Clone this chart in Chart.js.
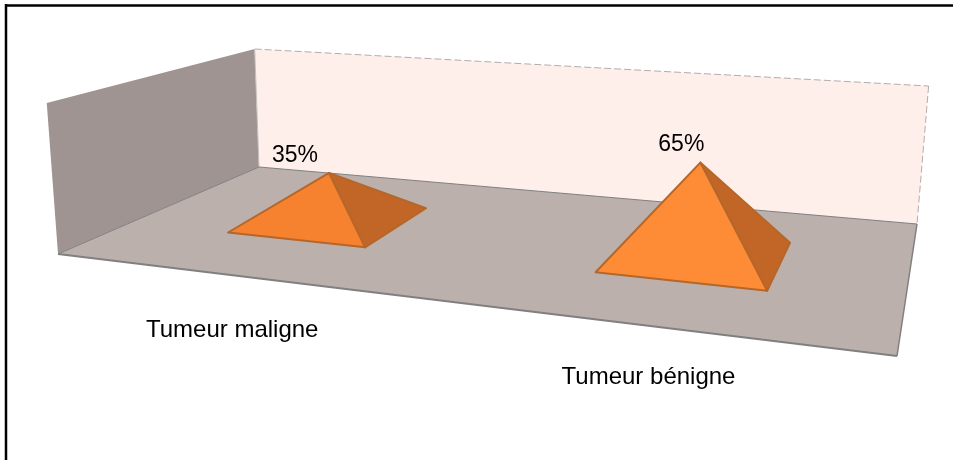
<!DOCTYPE html>
<html>
<head>
<meta charset="utf-8">
<script src="https://cdn.jsdelivr.net/npm/chart.js@4"></script>
<style>
  html, body { margin: 0; padding: 0; background: #fff; overflow: hidden; }
  canvas { display: block; }
</style>
</head>
<body>
<canvas id="grafico" width="953" height="460"></canvas>
<script>
// Datos
const categorias = ['Tumeur maligne', 'Tumeur bénigne'];
const valores = [35, 65];

// Colores
const color_pared = '#a09492';
const color_fondo = '#ffefeb';
const color_suelo = '#bbb0ac';
const color_borde = '#808080';
const color_frente = ['#f6812f', '#fe8c36'];
const color_lado = '#c26627';
const color_arista = '#b5672a';

// Esquinas del suelo en la pantalla (fondo izq, fondo der, frente der, frente izq)
const suelo = [[259, 167], [917, 224], [897, 356], [58, 254]];
// Altura de la caja en cada esquina, y punto de fuga de las verticales
const alturas = [118, 138, 176, 151];
const fuga = [460, 5650];

// homografia del cuadrado unidad a un cuadrilatero
function homografia(q) {
  const [[x0, y0], [x1, y1], [x2, y2], [x3, y3]] = q;
  const dx1 = x1 - x2, dx2 = x3 - x2, sx = x0 - x1 + x2 - x3;
  const dy1 = y1 - y2, dy2 = y3 - y2, sy = y0 - y1 + y2 - y3;
  const den = dx1 * dy2 - dx2 * dy1;
  const g = (sx * dy2 - dx2 * sy) / den;
  const h = (dx1 * sy - sx * dy1) / den;
  const a = x1 - x0 + g * x1, b = x3 - x0 + h * x3;
  const d = y1 - y0 + g * y1, e = y3 - y0 + h * y3;
  return (u, v) => {
    const w = g * u + h * v + 1;
    return [(a * u + b * v + x0) / w, (d * u + e * v + y0) / w];
  };
}
const enSuelo = homografia(suelo);

// u: izq-der, v: fondo-frente, w: altura (todo de 0 a 1)
function proyectar(u, v, w) {
  const p = enSuelo(u, v);
  const alto = (alturas[0] * (1 - u) + alturas[1] * u) * (1 - v) + (alturas[3] * (1 - u) + alturas[2] * u) * v;
  const inclinacion = (p[0] - fuga[0]) / (fuga[1] - p[1]);
  return [p[0] + alto * w * inclinacion, p[1] - alto * w];
}

function poligono(ctx, puntos, relleno, linea, grosor) {
  ctx.beginPath();
  puntos.forEach((p, i) => i ? ctx.lineTo(p[0], p[1]) : ctx.moveTo(p[0], p[1]));
  ctx.closePath();
  if (relleno) { ctx.fillStyle = relleno; ctx.fill(); }
  if (linea) { ctx.strokeStyle = linea; ctx.lineWidth = grosor; ctx.lineJoin = 'round'; ctx.stroke(); }
}

function linea(ctx, a, b, color, grosor, guiones) {
  ctx.save();
  ctx.beginPath();
  ctx.moveTo(a[0], a[1]);
  ctx.lineTo(b[0], b[1]);
  ctx.strokeStyle = color;
  ctx.lineWidth = grosor;
  ctx.setLineDash(guiones || []);
  ctx.stroke();
  ctx.restore();
}

// ajustes de posicion sobre la escena
const anchoU = 0.1, anchoV = 0.2;
const desplazamientoU = [0.0013, 0.0027];
const centroV = [0.4885, 0.4885];
const etiquetaDx = [-34, -19];
const etiquetaDy = [-17, -18];
const categoriaDx = [0, 0];
const categoriaDy = [55, 52];

const escena = {
  id: 'escena',
  beforeDatasetsDraw(chart) {
    const ctx = chart.ctx;
    const area = chart.chartArea;
    const x = chart.scales.x, y = chart.scales.y;

    // marco: solo arriba y a la izquierda
    linea(ctx, [5, 5.5], [953, 5.5], '#000', 2.5);
    linea(ctx, [6, 4], [6, 460], '#000', 2.5);

    // paredes y suelo
    const pared = [proyectar(0, 0, 0), proyectar(0, 0, 1), proyectar(0, 1, 1), proyectar(0, 1, 0)];
    const fondo = [proyectar(0, 0, 0), proyectar(0, 0, 1), proyectar(1, 0, 1), proyectar(1, 0, 0)];
    const piso = [proyectar(0, 0, 0), proyectar(1, 0, 0), proyectar(1, 1, 0), proyectar(0, 1, 0)];
    poligono(ctx, pared, color_pared);
    poligono(ctx, fondo, color_fondo);
    linea(ctx, fondo[1], fondo[2], '#b4aca9', 1, [7, 3]);
    linea(ctx, fondo[2], fondo[3], '#b4aca9', 1, [7, 3]);
    linea(ctx, fondo[0], fondo[1], '#c4bdb9', 1);
    poligono(ctx, piso, color_suelo);
    linea(ctx, piso[0], piso[1], color_borde, 1);
    linea(ctx, piso[0], piso[3], color_borde, 1);
    linea(ctx, piso[1], piso[2], color_borde, 1.5);
    linea(ctx, piso[2], piso[3], color_borde, 2);

    // piramides
    valores.forEach((valor, i) => {
      const u = (x.getPixelForValue(i) - area.left) / area.width + desplazamientoU[i];
      const v = centroV[i];
      const w = (y.getPixelForValue(0) - y.getPixelForValue(valor)) / area.height;
      const cima = proyectar(u, v, w);
      const izq = proyectar(u - anchoU, v + anchoV, 0);
      const der = proyectar(u + anchoU, v + anchoV, 0);
      const atras = proyectar(u + anchoU, v - anchoV, 0);
      poligono(ctx, [der, atras, cima], color_lado, color_arista, 2);
      poligono(ctx, [izq, der, cima], color_frente[i], color_arista, 2);

      // etiqueta de valor
      ctx.fillStyle = '#000';
      ctx.textAlign = 'center';
      ctx.textBaseline = 'middle';
      ctx.font = '23px "Liberation Sans"';
      ctx.fillText(valor + '%', cima[0] + etiquetaDx[i], cima[1] + etiquetaDy[i]);

      // etiqueta de categoria
      const base = proyectar(u, 1, 0);
      ctx.font = '24px "Liberation Sans"';
      ctx.fillText(categorias[i], base[0] + categoriaDx[i], base[1] + categoriaDy[i]);
    });
  }
};

new Chart(document.getElementById('grafico'), {
  type: 'bar',
  data: {
    labels: categorias,
    datasets: [{ data: valores, backgroundColor: 'rgba(0,0,0,0)', borderWidth: 0 }]
  },
  options: {
    responsive: false,
    animation: false,
    layout: { padding: 0 },
    plugins: { legend: { display: false }, tooltip: { enabled: false } },
    scales: {
      x: { display: false },
      y: { display: false, min: 0, max: 104 }
    }
  },
  plugins: [escena]
});
</script>
</body>
</html>
